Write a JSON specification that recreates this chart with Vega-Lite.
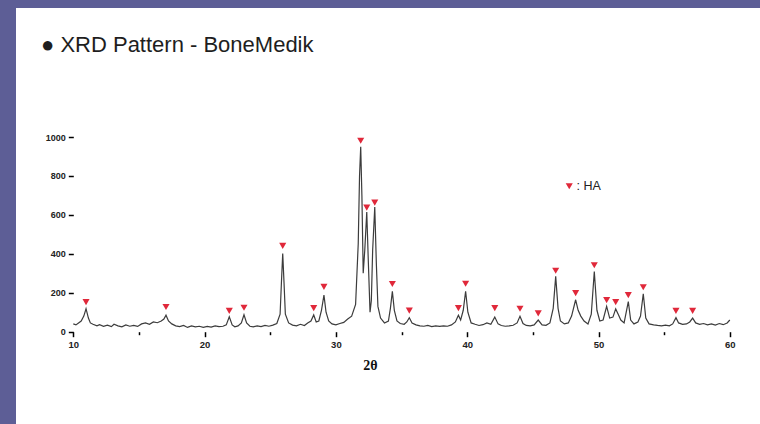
{
  "$schema": "https://vega.github.io/schema/vega-lite/v6.json",
  "width": 744,
  "height": 416,
  "autosize": {"type": "none"},
  "padding": {"left": 16, "top": 8, "right": 0, "bottom": 0},
  "background": "#5d5e96",
  "view": {"fill": "#ffffff", "stroke": null},
  "title": {
    "text": "● XRD Pattern - BoneMedik",
    "anchor": "start",
    "frame": "group",
    "orient": "top",
    "offset": -49,
    "dx": 25,
    "font": "Liberation Sans",
    "fontSize": 22,
    "fontWeight": "normal",
    "color": "#1e1e1e"
  },
  "datasets": {
    "profile": [
      {"two_theta": 10.0, "intensity": 40}, {"two_theta": 10.2, "intensity": 35}, {"two_theta": 10.4, "intensity": 45},
      {"two_theta": 10.6, "intensity": 55}, {"two_theta": 10.8, "intensity": 80}, {"two_theta": 10.97, "intensity": 118},
      {"two_theta": 11.15, "intensity": 70}, {"two_theta": 11.3, "intensity": 45}, {"two_theta": 11.5, "intensity": 38},
      {"two_theta": 11.8, "intensity": 30}, {"two_theta": 12.0, "intensity": 36}, {"two_theta": 12.3, "intensity": 28},
      {"two_theta": 12.6, "intensity": 34}, {"two_theta": 12.9, "intensity": 26}, {"two_theta": 13.1, "intensity": 38},
      {"two_theta": 13.4, "intensity": 30}, {"two_theta": 13.7, "intensity": 25}, {"two_theta": 14.0, "intensity": 35},
      {"two_theta": 14.3, "intensity": 28}, {"two_theta": 14.6, "intensity": 32}, {"two_theta": 14.9, "intensity": 27},
      {"two_theta": 15.2, "intensity": 40}, {"two_theta": 15.5, "intensity": 45}, {"two_theta": 15.8, "intensity": 38},
      {"two_theta": 16.1, "intensity": 50}, {"two_theta": 16.4, "intensity": 46}, {"two_theta": 16.7, "intensity": 55},
      {"two_theta": 16.9, "intensity": 65}, {"two_theta": 17.06, "intensity": 85}, {"two_theta": 17.25, "intensity": 55},
      {"two_theta": 17.5, "intensity": 40}, {"two_theta": 17.8, "intensity": 30}, {"two_theta": 18.1, "intensity": 26},
      {"two_theta": 18.4, "intensity": 32}, {"two_theta": 18.7, "intensity": 22}, {"two_theta": 19.0, "intensity": 30},
      {"two_theta": 19.3, "intensity": 25}, {"two_theta": 19.6, "intensity": 28}, {"two_theta": 19.9, "intensity": 22},
      {"two_theta": 20.2, "intensity": 27}, {"two_theta": 20.5, "intensity": 24}, {"two_theta": 20.8, "intensity": 30},
      {"two_theta": 21.1, "intensity": 26}, {"two_theta": 21.4, "intensity": 28}, {"two_theta": 21.65, "intensity": 35},
      {"two_theta": 21.88, "intensity": 77}, {"two_theta": 22.1, "intensity": 35}, {"two_theta": 22.3, "intensity": 25},
      {"two_theta": 22.55, "intensity": 30}, {"two_theta": 22.8, "intensity": 45}, {"two_theta": 23.0, "intensity": 87},
      {"two_theta": 23.2, "intensity": 45}, {"two_theta": 23.45, "intensity": 28}, {"two_theta": 23.7, "intensity": 25},
      {"two_theta": 24.0, "intensity": 30}, {"two_theta": 24.3, "intensity": 26}, {"two_theta": 24.6, "intensity": 32},
      {"two_theta": 24.9, "intensity": 28}, {"two_theta": 25.2, "intensity": 34}, {"two_theta": 25.5, "intensity": 42},
      {"two_theta": 25.75, "intensity": 90}, {"two_theta": 25.85, "intensity": 250}, {"two_theta": 25.95, "intensity": 402},
      {"two_theta": 26.05, "intensity": 250}, {"two_theta": 26.15, "intensity": 90}, {"two_theta": 26.4, "intensity": 45},
      {"two_theta": 26.7, "intensity": 34}, {"two_theta": 27.0, "intensity": 30}, {"two_theta": 27.3, "intensity": 38},
      {"two_theta": 27.6, "intensity": 32}, {"two_theta": 27.85, "intensity": 45}, {"two_theta": 28.1, "intensity": 55},
      {"two_theta": 28.31, "intensity": 86}, {"two_theta": 28.5, "intensity": 50}, {"two_theta": 28.7, "intensity": 55},
      {"two_theta": 28.9, "intensity": 110}, {"two_theta": 29.09, "intensity": 188}, {"two_theta": 29.25, "intensity": 100},
      {"two_theta": 29.45, "intensity": 55}, {"two_theta": 29.7, "intensity": 40}, {"two_theta": 30.0, "intensity": 35},
      {"two_theta": 30.3, "intensity": 42}, {"two_theta": 30.6, "intensity": 48}, {"two_theta": 30.9, "intensity": 65},
      {"two_theta": 31.2, "intensity": 80}, {"two_theta": 31.5, "intensity": 140}, {"two_theta": 31.7, "intensity": 450},
      {"two_theta": 31.8, "intensity": 800}, {"two_theta": 31.89, "intensity": 950}, {"two_theta": 31.98, "intensity": 700},
      {"two_theta": 32.08, "intensity": 300}, {"two_theta": 32.2, "intensity": 420}, {"two_theta": 32.35, "intensity": 615},
      {"two_theta": 32.45, "intensity": 400}, {"two_theta": 32.6, "intensity": 100}, {"two_theta": 32.7, "intensity": 160},
      {"two_theta": 32.8, "intensity": 420}, {"two_theta": 32.96, "intensity": 640}, {"two_theta": 33.08, "intensity": 350},
      {"two_theta": 33.2, "intensity": 130}, {"two_theta": 33.4, "intensity": 70}, {"two_theta": 33.7, "intensity": 45},
      {"two_theta": 34.0, "intensity": 55}, {"two_theta": 34.15, "intensity": 120}, {"two_theta": 34.3, "intensity": 207},
      {"two_theta": 34.45, "intensity": 110}, {"two_theta": 34.65, "intensity": 55}, {"two_theta": 34.9, "intensity": 42},
      {"two_theta": 35.2, "intensity": 38}, {"two_theta": 35.4, "intensity": 50}, {"two_theta": 35.59, "intensity": 72},
      {"two_theta": 35.8, "intensity": 45}, {"two_theta": 36.1, "intensity": 35}, {"two_theta": 36.4, "intensity": 30},
      {"two_theta": 36.7, "intensity": 28}, {"two_theta": 37.0, "intensity": 32}, {"two_theta": 37.3, "intensity": 26},
      {"two_theta": 37.6, "intensity": 30}, {"two_theta": 37.9, "intensity": 27}, {"two_theta": 38.2, "intensity": 30},
      {"two_theta": 38.5, "intensity": 28}, {"two_theta": 38.8, "intensity": 35}, {"two_theta": 39.1, "intensity": 50},
      {"two_theta": 39.33, "intensity": 85}, {"two_theta": 39.5, "intensity": 60}, {"two_theta": 39.7, "intensity": 110},
      {"two_theta": 39.88, "intensity": 208}, {"two_theta": 40.05, "intensity": 100}, {"two_theta": 40.3, "intensity": 45},
      {"two_theta": 40.6, "intensity": 38}, {"two_theta": 40.9, "intensity": 32}, {"two_theta": 41.2, "intensity": 36},
      {"two_theta": 41.5, "intensity": 45}, {"two_theta": 41.8, "intensity": 38}, {"two_theta": 42.1, "intensity": 75},
      {"two_theta": 42.35, "intensity": 40}, {"two_theta": 42.6, "intensity": 32}, {"two_theta": 42.9, "intensity": 28},
      {"two_theta": 43.2, "intensity": 30}, {"two_theta": 43.5, "intensity": 33}, {"two_theta": 43.8, "intensity": 45},
      {"two_theta": 44.02, "intensity": 79}, {"two_theta": 44.25, "intensity": 42}, {"two_theta": 44.5, "intensity": 32},
      {"two_theta": 44.8, "intensity": 30}, {"two_theta": 45.1, "intensity": 35}, {"two_theta": 45.41, "intensity": 60},
      {"two_theta": 45.7, "intensity": 35}, {"two_theta": 46.0, "intensity": 33}, {"two_theta": 46.3, "intensity": 45},
      {"two_theta": 46.55, "intensity": 120}, {"two_theta": 46.74, "intensity": 284}, {"two_theta": 46.92, "intensity": 120},
      {"two_theta": 47.1, "intensity": 55}, {"two_theta": 47.4, "intensity": 40}, {"two_theta": 47.7, "intensity": 45},
      {"two_theta": 47.95, "intensity": 80}, {"two_theta": 48.26, "intensity": 164}, {"two_theta": 48.45, "intensity": 110},
      {"two_theta": 48.65, "intensity": 80}, {"two_theta": 48.9, "intensity": 55}, {"two_theta": 49.2, "intensity": 40},
      {"two_theta": 49.45, "intensity": 90}, {"two_theta": 49.68, "intensity": 309}, {"two_theta": 49.88, "intensity": 110},
      {"two_theta": 50.1, "intensity": 55}, {"two_theta": 50.35, "intensity": 60}, {"two_theta": 50.62, "intensity": 130},
      {"two_theta": 50.85, "intensity": 70}, {"two_theta": 51.1, "intensity": 75}, {"two_theta": 51.31, "intensity": 117},
      {"two_theta": 51.5, "intensity": 90}, {"two_theta": 51.7, "intensity": 60}, {"two_theta": 51.95, "intensity": 45},
      {"two_theta": 52.27, "intensity": 155}, {"two_theta": 52.45, "intensity": 60}, {"two_theta": 52.7, "intensity": 40},
      {"two_theta": 53.0, "intensity": 50}, {"two_theta": 53.2, "intensity": 80}, {"two_theta": 53.41, "intensity": 195},
      {"two_theta": 53.6, "intensity": 70}, {"two_theta": 53.85, "intensity": 40}, {"two_theta": 54.2, "intensity": 35},
      {"two_theta": 54.5, "intensity": 32}, {"two_theta": 54.8, "intensity": 30}, {"two_theta": 55.1, "intensity": 34},
      {"two_theta": 55.4, "intensity": 30}, {"two_theta": 55.65, "intensity": 40}, {"two_theta": 55.9, "intensity": 72},
      {"two_theta": 56.1, "intensity": 45}, {"two_theta": 56.4, "intensity": 38}, {"two_theta": 56.7, "intensity": 40},
      {"two_theta": 56.95, "intensity": 50}, {"two_theta": 57.17, "intensity": 70}, {"two_theta": 57.4, "intensity": 45},
      {"two_theta": 57.7, "intensity": 38}, {"two_theta": 58.0, "intensity": 42}, {"two_theta": 58.3, "intensity": 35},
      {"two_theta": 58.6, "intensity": 40}, {"two_theta": 58.9, "intensity": 34}, {"two_theta": 59.2, "intensity": 42},
      {"two_theta": 59.5, "intensity": 36}, {"two_theta": 59.8, "intensity": 45}, {"two_theta": 60.0, "intensity": 60}
    ],
    "markers": [
      {"two_theta": 10.97, "intensity": 152, "phase": "HA"}, {"two_theta": 17.06, "intensity": 127, "phase": "HA"},
      {"two_theta": 21.88, "intensity": 107, "phase": "HA"}, {"two_theta": 23.0, "intensity": 123, "phase": "HA"},
      {"two_theta": 25.95, "intensity": 441, "phase": "HA"}, {"two_theta": 28.31, "intensity": 121, "phase": "HA"},
      {"two_theta": 29.09, "intensity": 230, "phase": "HA"}, {"two_theta": 31.89, "intensity": 981, "phase": "HA"},
      {"two_theta": 32.35, "intensity": 637, "phase": "HA"}, {"two_theta": 32.96, "intensity": 663, "phase": "HA"},
      {"two_theta": 34.3, "intensity": 245, "phase": "HA"}, {"two_theta": 35.59, "intensity": 108, "phase": "HA"},
      {"two_theta": 39.33, "intensity": 121, "phase": "HA"}, {"two_theta": 39.88, "intensity": 246, "phase": "HA"},
      {"two_theta": 42.1, "intensity": 121, "phase": "HA"}, {"two_theta": 44.02, "intensity": 118, "phase": "HA"},
      {"two_theta": 45.41, "intensity": 94, "phase": "HA"}, {"two_theta": 46.74, "intensity": 313, "phase": "HA"},
      {"two_theta": 48.26, "intensity": 198, "phase": "HA"}, {"two_theta": 49.68, "intensity": 341, "phase": "HA"},
      {"two_theta": 50.62, "intensity": 162, "phase": "HA"}, {"two_theta": 51.31, "intensity": 152, "phase": "HA"},
      {"two_theta": 52.27, "intensity": 188, "phase": "HA"}, {"two_theta": 53.41, "intensity": 228, "phase": "HA"},
      {"two_theta": 55.9, "intensity": 107, "phase": "HA"}, {"two_theta": 57.17, "intensity": 107, "phase": "HA"}
    ]
  },
  "encoding": {
    "x": {
      "field": "two_theta",
      "type": "quantitative",
      "scale": {"domain": [5.636, 62.3], "nice": false, "zero": false},
      "axis": {
        "title": "2θ", "offset": -92.3, "domain": false, "grid": false,
        "values": [10, 15, 20, 25, 30, 35, 40, 45, 50, 55, 60],
        "labelExpr": "datum.value % 10 === 0 ? datum.label : ''",
        "labelOverlap": false, "labelFlush": false,
        "tickColor": "#000", "tickWidth": 1.5,
        "tickSize": {"condition": {"test": "datum.value % 10 === 0", "value": 5}, "value": 3},
        "labelFont": "Liberation Sans", "labelFontSize": 9.5, "labelFontWeight": "bold", "labelColor": "#222", "labelPadding": 3,
        "titleFont": "Liberation Serif", "titleFontSize": 14, "titleFontWeight": "bold", "titleColor": "#111",
        "titleX": 354, "titleY": 38, "titleAlign": "center", "titleBaseline": "alphabetic"
      }
    },
    "y": {
      "field": "intensity",
      "type": "quantitative",
      "scale": {"domain": [-474.1, 1662.6], "nice": false, "zero": false},
      "axis": {
        "title": null, "offset": -57.3, "domain": false, "grid": false,
        "values": [0, 100, 200, 300, 400, 500, 600, 700, 800, 900, 1000, 1100],
        "labelExpr": "datum.value % 200 === 0 && datum.value <= 1000 ? datum.label : ''",
        "labelOverlap": false,
        "tickColor": "#000", "tickWidth": 1.5,
        "tickSize": {"condition": {"test": "datum.value % 200 === 0", "value": 5}, "value": 3},
        "labelFont": "Liberation Sans", "labelFontSize": 9, "labelFontWeight": "bold", "labelColor": "#222", "labelPadding": 3, "format": "d"
      }
    }
  },
  "layer": [
    {
      "data": {"name": "profile"},
      "mark": {"type": "line", "color": "#3c3c3c", "strokeWidth": 1.2}
    },
    {
      "data": {"name": "markers"},
      "mark": {"type": "point", "filled": true, "size": 50, "strokeWidth": 0, "opacity": 1},
      "encoding": {
        "shape": {
          "field": "phase", "type": "nominal",
          "scale": {"range": ["triangle-down"]},
          "legend": {"orient": "none", "legendX": 547, "legendY": 172, "title": null, "labelExpr": "': ' + datum.label", "labelFont": "Liberation Sans", "labelFontSize": 12.5, "labelColor": "#222", "symbolSize": 50, "symbolStrokeWidth": 0, "labelOffset": 1, "padding": 0}
        },
        "color": {
          "field": "phase", "type": "nominal",
          "scale": {"range": ["#e0283a"]},
          "legend": {"orient": "none", "legendX": 547, "legendY": 172, "title": null, "labelExpr": "': ' + datum.label", "labelFont": "Liberation Sans", "labelFontSize": 12.5, "labelColor": "#222", "symbolSize": 50, "symbolStrokeWidth": 0, "labelOffset": 1, "padding": 0}
        }
      }
    },
    {
      "data": {"values": [{}]},
      "mark": {"type": "rule", "color": "#000000", "strokeWidth": 2},
      "encoding": {
        "x": {"datum": 10, "type": "quantitative", "axis": {"title": "2θ"}},
        "x2": {"datum": 60},
        "y": {"datum": 0, "type": "quantitative", "axis": {"title": null}}
      }
    },
    {
      "data": {"values": [{}]},
      "mark": {"type": "rule", "color": "#000000", "strokeWidth": 2},
      "encoding": {
        "x": {"datum": 10, "type": "quantitative", "axis": {"title": "2θ"}},
        "y": {"datum": 0, "type": "quantitative", "axis": {"title": null}},
        "y2": {"datum": 1100}
      }
    }
  ]
}
